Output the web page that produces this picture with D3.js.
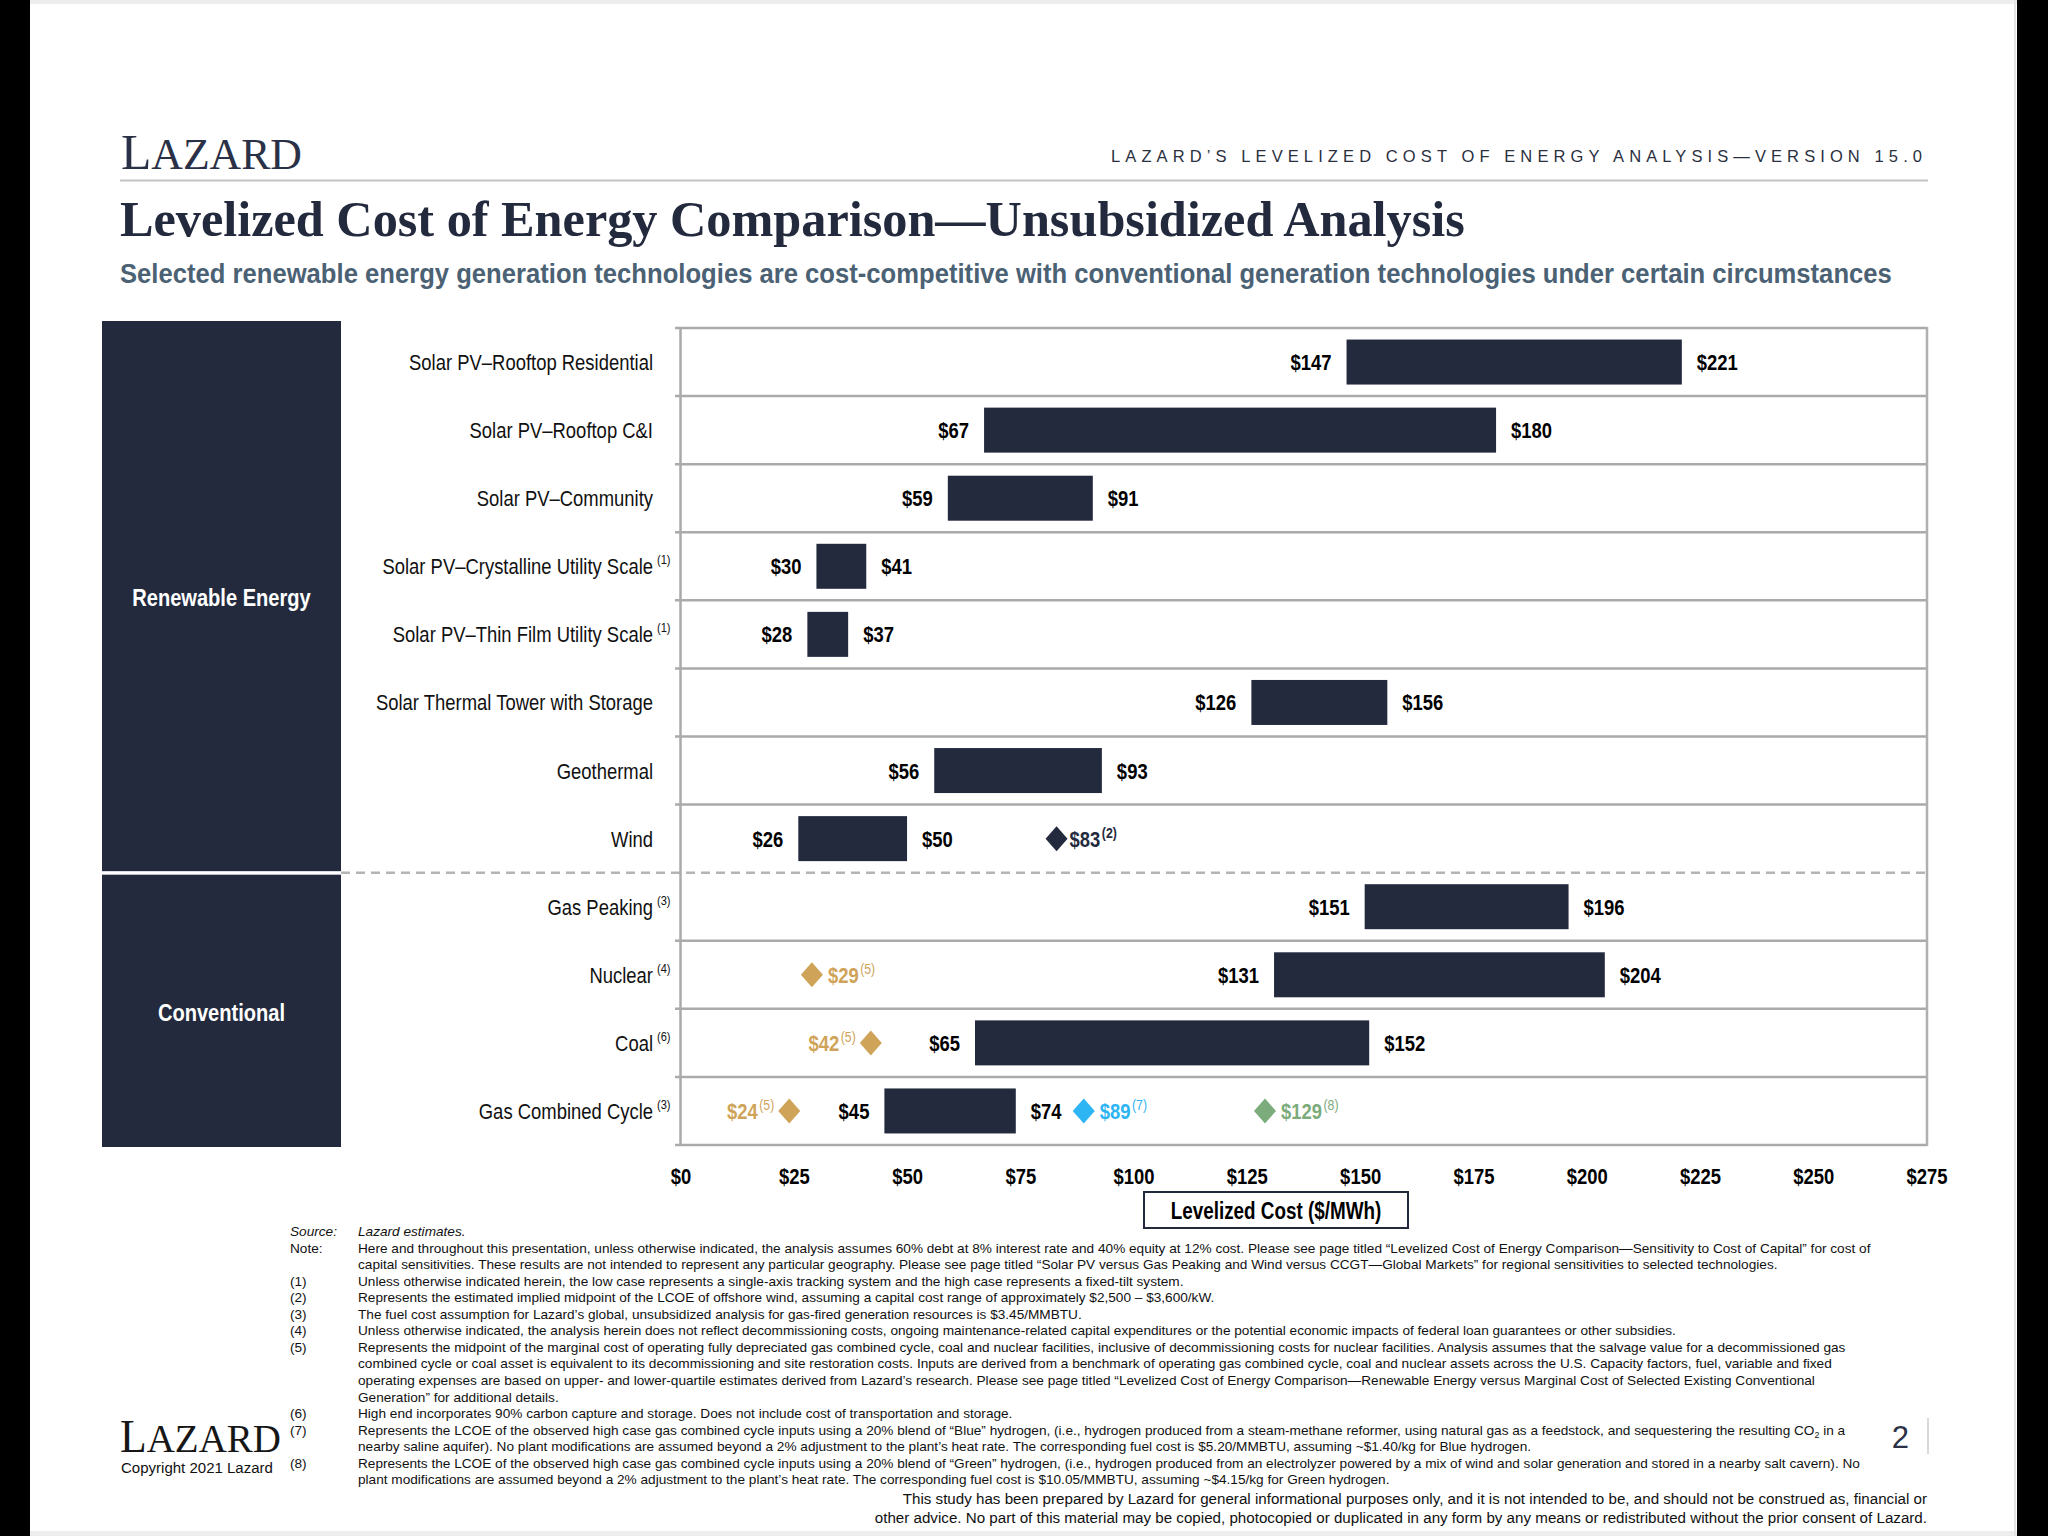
<!DOCTYPE html>
<html><head><meta charset="utf-8">
<script src="https://cdn.jsdelivr.net/npm/d3@7"></script>
<style>body{margin:0;background:#000}svg{display:block}</style>
</head><body>
<svg id="c" width="2048" height="1536"></svg>
<script>
// ---------- DATA ----------
const categories = ["Solar PV–Rooftop Residential","Solar PV–Rooftop C&I","Solar PV–Community",
  "Solar PV–Crystalline Utility Scale","Solar PV–Thin Film Utility Scale","Solar Thermal Tower with Storage",
  "Geothermal","Wind","Gas Peaking","Nuclear","Coal","Gas Combined Cycle"];
const categoryNotes = ["","","","(1)","(1)","","","","(3)","(4)","(6)","(3)"];
const lowValues  = [147, 67, 59, 30, 28, 126, 56, 26, 151, 131, 65, 45];
const highValues = [221,180, 91, 41, 37, 156, 93, 50, 196, 204,152, 74];
const groupNames  = ["Renewable Energy","Conventional"];
const groupCounts = [8, 4];
const markerCategories = ["Wind","Nuclear","Coal","Gas Combined Cycle","Gas Combined Cycle","Gas Combined Cycle"];
const markerValues = [83, 29, 42, 24, 89, 129];
const markerNotes  = ["(2)","(5)","(5)","(5)","(7)","(8)"];
const markerKinds  = ["offshore","marginal","marginal","marginal","blue","green"];
const xTicks = [0,25,50,75,100,125,150,175,200,225,250,275];

// ---------- STYLE / LAYOUT ----------
const NAVY = "#242a3e";
const markerColor = {offshore:"#242a3e", marginal:"#cfa358", blue:"#2cb4f3", green:"#7cab7c"};
const markerLabelLeft = [false,false,true,true,false,false];

function fontAvailable(name){
  const ctx=document.createElement('canvas').getContext('2d');
  const s="mmmmmmmmmmlli$01234WWWabc";
  ctx.font="40px monospace"; const a=ctx.measureText(s).width;
  ctx.font=`40px "${name}", monospace`; const b=ctx.measureText(s).width;
  ctx.font="40px serif"; const c=ctx.measureText(s).width;
  ctx.font=`40px "${name}", serif`; const d=ctx.measureText(s).width;
  return a!==b || c!==d;
}
const HAS_NARROW = fontAvailable("Liberation Sans Narrow");
const NARROW = HAS_NARROW ? '"Liberation Sans Narrow","Arial Narrow",sans-serif' : '"Liberation Sans",Arial,sans-serif';
const SANS = '"Liberation Sans",Arial,sans-serif';
const SERIF = '"Liberation Serif","Times New Roman",serif';
const SQUEEZE = HAS_NARROW ? 1 : 0.82;

const svg = d3.select("#c");

// horizontal condensing around the anchor x (used only when no narrow face is installed)
function squeezeBy(t,s){
  if(s!==1){const ax=+t.attr('x')||0;t.attr('transform',`translate(${ax*(1-s)},0) scale(${s},1)`);}
  return t;
}
function squeeze(t){return squeezeBy(t,SQUEEZE);}
function txt(g,o){
  const t=g.append('text').attr('x',o.x).attr('y',o.y)
    .attr('font-family',o.narrow?NARROW:(o.family||SANS)).attr('font-size',o.size)
    .attr('font-weight',o.weight||'normal').attr('fill',o.fill||'#000')
    .attr('text-anchor',o.anchor||'start').text(o.text);
  if(o.italic) t.attr('font-style','italic');
  if(o.narrow) squeeze(t);
  return t;
}
function tw(t){return t.node().getComputedTextLength()*(t.attr('transform')?SQUEEZE:1);}
function fitWidth(t,target){const w=t.node().getComputedTextLength();const fs=+t.attr('font-size');t.attr('font-size',fs*target/w);}

// ---------- PAGE ----------
svg.append('rect').attr('x',30).attr('y',0).attr('width',1987).attr('height',1536).attr('fill','#fff');
svg.append('rect').attr('x',30).attr('y',0).attr('width',1987).attr('height',4).attr('fill','#ededed');
svg.append('rect').attr('x',30).attr('y',1531).attr('width',1987).attr('height',5).attr('fill','#ededed');
svg.append('rect').attr('x',2014).attr('y',0).attr('width',2).attr('height',1536).attr('fill','#e4e4e4');

// header logo
const logo = svg.append('text').attr('x',121).attr('y',169).attr('font-family',SERIF).attr('fill','#2a3147');
logo.append('tspan').attr('font-size',50).text('L');
logo.append('tspan').attr('font-size',44).text('AZARD');
squeezeBy(logo,181/logo.node().getComputedTextLength());

svg.append('text').attr('x',1922).attr('y',162).attr('text-anchor','end').attr('font-family',SANS)
  .attr('font-size',16.5).attr('fill','#2a2f40').attr('textLength',811).attr('lengthAdjust','spacing')
  .text("LAZARD’S LEVELIZED COST OF ENERGY ANALYSIS—VERSION 15.0");
svg.append('line').attr('x1',120).attr('x2',1928).attr('y1',180.5).attr('y2',180.5).attr('stroke','#c4c4c4').attr('stroke-width',2);

// title
const title = svg.append('text').attr('x',120).attr('y',236).attr('font-family',SERIF).attr('font-weight','bold')
  .attr('font-size',48).attr('fill',NAVY).text("Levelized Cost of Energy Comparison—Unsubsidized Analysis");
fitWidth(title,1345);
const sub = svg.append('text').attr('x',120).attr('y',283).attr('font-family',NARROW).attr('font-weight','bold')
  .attr('font-size',30).attr('fill','#4b6174')
  .text("Selected renewable energy generation technologies are cost-competitive with conventional generation technologies under certain circumstances");
if(SQUEEZE===1) fitWidth(sub,1772);
else { fitWidth(sub,1905); squeezeBy(sub,1772/1905); }

// ---------- CHART ----------
const x = d3.scaleLinear().domain([0,275]).range([680.5,1926.5]);
const y = d3.scaleBand().domain(categories).range([328,1145]).paddingInner(0);
const bw = y.bandwidth();
const barH = 45;
const g = svg.append('g');

// group panels
let start=0;
const panelTop=321, panelBottom=1147;
groupNames.forEach((name,gi)=>{
  const first=categories[start], last=categories[start+groupCounts[gi]-1];
  const y0 = gi===0 ? panelTop : y(first)+2;
  const y1 = gi===groupNames.length-1 ? panelBottom : y(last)+bw-1.5;
  g.append('rect').attr('x',102).attr('y',y0).attr('width',239).attr('height',y1-y0).attr('fill',NAVY);
  txt(g,{x:221.5,y:(y0+y1)/2+10,text:name,size:24.5,weight:'bold',fill:'#fff',anchor:'middle',narrow:true});
  start+=groupCounts[gi];
});

// grid lines (row separators)
const boundaries = categories.map(c=>y(c)).concat([y(categories[categories.length-1])+bw]);
const dashedIndex = groupCounts[0];
boundaries.forEach((b,i)=>{
  if(i===dashedIndex){
    g.append('line').attr('x1',341).attr('x2',1927).attr('y1',b).attr('y2',b)
      .attr('stroke','#b4b4b4').attr('stroke-width',2.5).attr('stroke-dasharray','9,6');
  } else {
    g.append('line').attr('x1',675).attr('x2',1927).attr('y1',b).attr('y2',b)
      .attr('stroke','#aaaaaa').attr('stroke-width',2.5);
  }
});
g.append('line').attr('x1',x(0)).attr('x2',x(0)).attr('y1',boundaries[0]-1).attr('y2',boundaries[boundaries.length-1]+1)
  .attr('stroke','#aaaaaa').attr('stroke-width',2.5);
g.append('line').attr('x1',1927).attr('x2',1927).attr('y1',boundaries[0]-1).attr('y2',boundaries[boundaries.length-1]+1)
  .attr('stroke','#b0b0b0').attr('stroke-width',2.5);

// category labels (label ends at 653, note hangs to the right)
categories.forEach((c,i)=>{
  const yc=y(c)+bw/2;
  txt(g,{x:653,y:yc+8,text:c,size:22.5,anchor:'end',narrow:true,fill:'#111'});
  if(categoryNotes[i]) txt(g,{x:657,y:yc-2,text:categoryNotes[i],size:13.5,narrow:true,fill:'#111'});
});

// bars
g.selectAll('rect.bar').data(categories).join('rect').attr('class','bar')
  .attr('x',(c,i)=>x(lowValues[i])).attr('width',(c,i)=>x(highValues[i])-x(lowValues[i]))
  .attr('y',c=>y(c)+(bw-barH)/2).attr('height',barH).attr('fill',NAVY);

// bar value labels
categories.forEach((c,i)=>{
  const yc=y(c)+bw/2;
  txt(g,{x:x(lowValues[i])-15,y:yc+8,text:'$'+lowValues[i],size:22.5,weight:'bold',anchor:'end',narrow:true});
  txt(g,{x:x(highValues[i])+15,y:yc+8,text:'$'+highValues[i],size:22.5,weight:'bold',anchor:'start',narrow:true});
});

// markers
markerValues.forEach((v,i)=>{
  const yc=y(markerCategories[i])+bw/2, cx=x(v), col=markerColor[markerKinds[i]];
  const hw=11, hh=12.5;
  g.append('path').attr('d',`M${cx},${yc-hh}L${cx+hw},${yc}L${cx},${yc+hh}L${cx-hw},${yc}Z`).attr('fill',col);
  const supW = markerKinds[i]==='offshore' ? 'bold' : 'normal';
  if(markerLabelLeft[i]){
    const s=txt(g,{x:cx-15,y:yc-1,text:markerNotes[i],size:15,weight:supW,anchor:'end',narrow:true,fill:col});
    txt(g,{x:cx-15-tw(s)-1.5,y:yc+8,text:'$'+v,size:22.5,weight:'bold',anchor:'end',narrow:true,fill:col});
  } else {
    const off = markerKinds[i]==='offshore' ? 13 : 16;
    const m=txt(g,{x:cx+off,y:yc+8,text:'$'+v,size:22.5,weight:'bold',anchor:'start',narrow:true,fill:col});
    txt(g,{x:cx+off+tw(m)+1.5,y:yc-1,text:markerNotes[i],size:15,weight:supW,anchor:'start',narrow:true,fill:col});
  }
});

// x axis
const ax = svg.append('g').attr('transform',`translate(0,${boundaries[boundaries.length-1]})`)
  .call(d3.axisBottom(x).tickValues(xTicks).tickFormat(d=>'$'+d).tickSize(0).tickPadding(23));
ax.select('.domain').remove();
ax.selectAll('text').attr('font-family',NARROW).attr('font-size',22.5).attr('font-weight','bold').attr('fill','#000')
  .each(function(){squeeze(d3.select(this));});
svg.append('rect').attr('x',1144).attr('y',1192).attr('width',264).attr('height',36).attr('fill','#fff')
  .attr('stroke',NAVY).attr('stroke-width',2);
txt(svg,{x:1276,y:1219,text:'Levelized Cost ($/MWh)',size:23,weight:'bold',anchor:'middle',narrow:true});

// ---------- FOOTNOTES ----------
const notes = [
 ["Source:","Lazard estimates.",true],
 ["Note:","Here and throughout this presentation, unless otherwise indicated, the analysis assumes 60% debt at 8% interest rate and 40% equity at 12% cost. Please see page titled “Levelized Cost of Energy Comparison—Sensitivity to Cost of Capital” for cost of"],
 ["","capital sensitivities. These results are not intended to represent any particular geography. Please see page titled “Solar PV versus Gas Peaking and Wind versus CCGT—Global Markets” for regional sensitivities to selected technologies."],
 ["(1)","Unless otherwise indicated herein, the low case represents a single-axis tracking system and the high case represents a fixed-tilt system."],
 ["(2)","Represents the estimated implied midpoint of the LCOE of offshore wind, assuming a capital cost range of approximately $2,500 – $3,600/kW."],
 ["(3)","The fuel cost assumption for Lazard’s global, unsubsidized analysis for gas-fired generation resources is $3.45/MMBTU."],
 ["(4)","Unless otherwise indicated, the analysis herein does not reflect decommissioning costs, ongoing maintenance-related capital expenditures or the potential economic impacts of federal loan guarantees or other subsidies."],
 ["(5)","Represents the midpoint of the marginal cost of operating fully depreciated gas combined cycle, coal and nuclear facilities, inclusive of decommissioning costs for nuclear facilities. Analysis assumes that the salvage value for a decommissioned gas"],
 ["","combined cycle or coal asset is equivalent to its decommissioning and site restoration costs. Inputs are derived from a benchmark of operating gas combined cycle, coal and nuclear assets across the U.S. Capacity factors, fuel, variable and fixed"],
 ["","operating expenses are based on upper- and lower-quartile estimates derived from Lazard’s research. Please see page titled “Levelized Cost of Energy Comparison—Renewable Energy versus Marginal Cost of Selected Existing Conventional"],
 ["","Generation” for additional details."],
 ["(6)","High end incorporates 90% carbon capture and storage. Does not include cost of transportation and storage."],
 ["(7)","Represents the LCOE of the observed high case gas combined cycle inputs using a 20% blend of “Blue” hydrogen, (i.e., hydrogen produced from a steam-methane reformer, using natural gas as a feedstock, and sequestering the resulting CO|2| in a"],
 ["","nearby saline aquifer). No plant modifications are assumed beyond a 2% adjustment to the plant’s heat rate. The corresponding fuel cost is $5.20/MMBTU, assuming ~$1.40/kg for Blue hydrogen."],
 ["(8)","Represents the LCOE of the observed high case gas combined cycle inputs using a 20% blend of “Green” hydrogen, (i.e., hydrogen produced from an electrolyzer powered by a mix of wind and solar generation and stored in a nearby salt cavern). No"],
 ["","plant modifications are assumed beyond a 2% adjustment to the plant’s heat rate. The corresponding fuel cost is $10.05/MMBTU, assuming ~$4.15/kg for Green hydrogen."]
];
const probe = svg.append('text').attr('font-family',SANS).attr('font-size',13).text(notes[1][1]);
const fnSize = 13*1515/probe.node().getComputedTextLength();
probe.remove();
const fg = svg.append('g').attr('font-family',SANS).attr('font-size',fnSize).attr('fill','#111');
notes.forEach((n,i)=>{
  const by = 1236 + i*16.55;
  if(n[0]) fg.append('text').attr('x',290).attr('y',by).attr('font-style',n[2]?'italic':null).text(n[0]);
  const t = fg.append('text').attr('x',358).attr('y',by).attr('font-style',n[2]?'italic':null);
  const parts = n[1].split('|');
  if(parts.length===3){
    t.append('tspan').text(parts[0]);
    t.append('tspan').attr('font-size',fnSize*0.65).attr('dy',3).text(parts[1]);
    t.append('tspan').attr('dy',-3).text(parts[2]);
  } else t.text(n[1]);
});

// bottom logo & copyright
const blogo = svg.append('text').attr('x',120).attr('y',1452).attr('font-family',SERIF).attr('fill','#161616');
blogo.append('tspan').attr('font-size',46).text('L');
blogo.append('tspan').attr('font-size',41).text('AZARD');
squeezeBy(blogo,161/blogo.node().getComputedTextLength());
const copy = svg.append('text').attr('x',121).attr('y',1473).attr('font-family',SANS).attr('font-size',14.4).attr('fill','#111')
  .text('Copyright 2021 Lazard');
fitWidth(copy,152);

// page number
svg.append('text').attr('x',1909).attr('y',1448).attr('text-anchor','end').attr('font-family',SANS)
  .attr('font-size',31).attr('fill','#2a3147').text('2');
svg.append('line').attr('x1',1928).attr('x2',1928).attr('y1',1418).attr('y2',1454).attr('stroke','#cccccc').attr('stroke-width',1.5);

// disclaimer
const disc = ["This study has been prepared by Lazard for general informational purposes only, and it is not intended to be, and should not be construed as, financial or",
 "other advice. No part of this material may be copied, photocopied or duplicated in any form by any means or redistributed without the prior consent of Lazard."];
const d0 = svg.append('text').attr('font-family',SANS).attr('font-size',14).text(disc[0]);
const discSize = 14*1025/d0.node().getComputedTextLength();
d0.remove();
disc.forEach((d,i)=>svg.append('text').attr('x',1927).attr('y',1504+i*18.6).attr('text-anchor','end')
  .attr('font-family',SANS).attr('font-size',discSize).attr('fill','#111').text(d));
</script>
</body></html>
